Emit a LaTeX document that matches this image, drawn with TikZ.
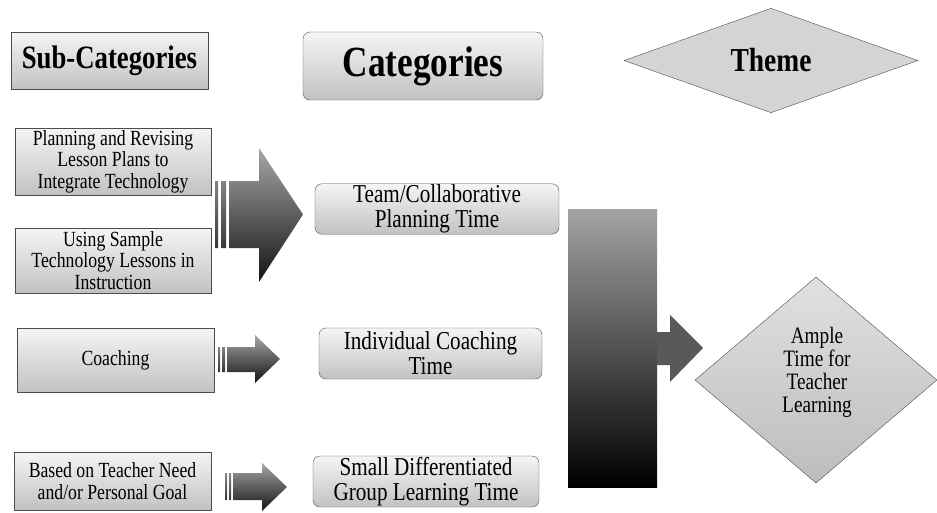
\documentclass[tikz,border=0pt]{standalone}
\usepackage{fontspec}
\setmainfont{Liberation Serif}[FakeStretch=0.82]
\usetikzlibrary{shapes.geometric}
\tikzset{
  box/.style={draw=black!70,thin,top color=black!4,bottom color=black!24,align=center,inner sep=1pt},
  rbox/.style={box,rounded corners=7pt},
  arrowshade/.style={top color=black!35,bottom color=black!92},
  subtxt/.style={font=\fontsize{21.6}{21.5}\selectfont},
  cattxt/.style={font=\fontsize{25.8}{25}\selectfont},
}
\begin{document}
\begin{tikzpicture}[x=1pt,y=-1pt]
  \useasboundingbox (0,0) rectangle (937,512);
  % headings
  \node[box,minimum width=197pt,minimum height=57pt,font=\fontsize{32.6}{34}\selectfont\bfseries] (subcat) at (109.5,60.5) {Sub-Categories};
  \node[rbox,minimum width=240pt,minimum height=68pt,font=\fontsize{43}{44}\selectfont\bfseries] (cat) at (423,66) {Categories};
  \node[diamond,draw=black!70,thin,fill=black!17,inner sep=0pt,minimum width=294pt,minimum height=97pt,
        font=\fontsize{33.5}{34}\selectfont\bfseries] (theme) at (771,60.5) {Theme};
  % sub-categories
  \node[box,subtxt,minimum width=196pt,minimum height=67pt] (plan) at (113,161.5)
        {Planning and Revising\\Lesson Plans to\\Integrate Technology};
  \node[box,subtxt,minimum width=196pt,minimum height=65pt] (sample) at (113,260.5)
        {Using Sample\\Technology Lessons in\\Instruction};
  \node[box,subtxt,minimum width=197pt,minimum height=64pt] (coach) at (115.5,360) {Coaching};
  \node[box,subtxt,minimum width=197pt,minimum height=58pt] (need) at (112.5,481)
        {Based on Teacher Need\\and/or Personal Goal};
  % categories
  \node[rbox,cattxt,minimum width=244pt,minimum height=50pt] (team) at (437,209)
        {Team/Collaborative\\Planning Time};
  \node[rbox,cattxt,minimum width=223pt,minimum height=51pt] (indiv) at (430.5,353.5)
        {Individual Coaching\\Time};
  \node[rbox,cattxt,minimum width=226pt,minimum height=51pt] (small) at (426,481.5)
        {Small Differentiated\\Group Learning Time};
  % theme
  \node[diamond,draw=black!70,thin,top color=black!12,bottom color=black!26,inner sep=0pt,
        minimum width=242pt,minimum height=206pt] (ample) at (816,380) {};
  \node[align=center,font=\fontsize{23.5}{23}\selectfont] (amptxt) at (817,372)
        {Ample\\Time for\\Teacher\\Learning};
  % block arrows
  \shade[arrowshade] (215,181) rectangle (218,248) (221,181) rectangle (226,248)
    (229,181) -- (259,181) -- (259,148) -- (303,214.5) -- (259,282) -- (259,248) -- (229,248) -- cycle;
  \shade[arrowshade] (218,347) rectangle (220,372) (222,347) rectangle (225,372)
    (227,347) -- (255,347) -- (255,335) -- (280,359) -- (255,383) -- (255,372) -- (227,372) -- cycle;
  \shade[arrowshade] (225,473) rectangle (227,500) (229,473) rectangle (231,500)
    (233,473) -- (262,473) -- (262,463) -- (287,487) -- (262,511) -- (262,500) -- (233,500) -- cycle;
  \shade[top color=black!36,bottom color=black] (568,209) rectangle (657,487);
  \fill[black!65] (657,332) -- (670,332) -- (670,315) -- (703,348) -- (670,382) -- (670,365) -- (657,365) -- cycle;
\end{tikzpicture}
\end{document}
